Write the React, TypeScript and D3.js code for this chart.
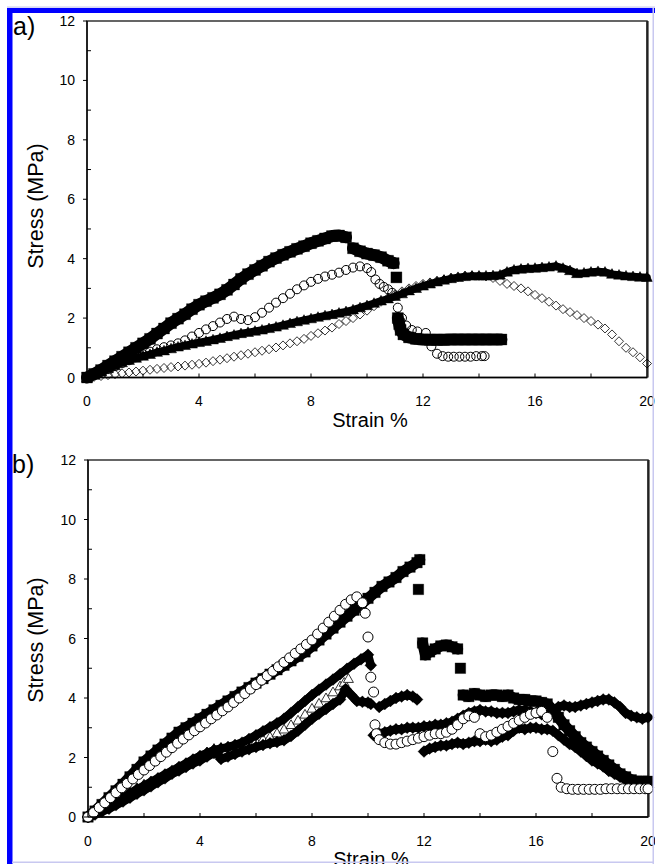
import React from "react";
import * as d3 from "d3";

type Pt = [number, number];

const xTicks = [0, 4, 8, 12, 16, 20];
const xMinorTicks = [2, 4, 6, 8, 10, 12, 14, 16, 18];
const yTicks = [0, 2, 4, 6, 8, 10, 12];
const yMinorTicks = [1, 3, 5, 7, 9, 11];

// ---------- Panel a ----------
const aSquares: Pt[] = [[0,0],[0.25,0.12],[0.5,0.25],[0.75,0.4],[1,0.55],[1.25,0.7],[1.5,0.85],[1.75,1.0],[2,1.15],[2.25,1.3],[2.5,1.48],[2.75,1.65],[3,1.83],[3.25,1.98],[3.5,2.13],[3.75,2.3],[4,2.45],[4.25,2.57],[4.5,2.68],[4.75,2.8],[5,2.95],[5.25,3.13],[5.5,3.32],[5.75,3.48],[6,3.62],[6.25,3.76],[6.5,3.9],[6.75,4.02],[7,4.13],[7.25,4.23],[7.5,4.33],[7.75,4.42],[8,4.52],[8.25,4.6],[8.5,4.68],[8.75,4.76],[9,4.78],[9.25,4.72],[9.5,4.35],[9.75,4.25],[10,4.17],[10.25,4.12],[10.5,4.05],[10.75,3.93],[10.95,3.85],[11.05,3.37],[11.1,2.0],[11.15,1.8],[11.2,1.6],[11.3,1.45],[11.5,1.35],[11.75,1.3],[12,1.28],[12.25,1.27],[12.5,1.27],[12.75,1.27],[13,1.28],[13.25,1.28],[13.5,1.28],[13.75,1.28],[14,1.28],[14.25,1.28],[14.5,1.28],[14.8,1.28]];

const aCircles: Pt[] = [[0,0],[0.25,0.08],[0.5,0.18],[0.75,0.28],[1,0.38],[1.25,0.48],[1.5,0.58],[1.75,0.68],[2,0.78],[2.25,0.87],[2.5,0.95],[2.75,1.02],[3,1.08],[3.25,1.15],[3.5,1.25],[3.75,1.38],[4,1.5],[4.25,1.62],[4.5,1.73],[4.75,1.85],[5,1.97],[5.25,2.05],[5.5,1.97],[5.75,1.93],[6,2.03],[6.25,2.18],[6.5,2.35],[6.75,2.52],[7,2.67],[7.25,2.82],[7.5,2.97],[7.75,3.1],[8,3.22],[8.25,3.32],[8.5,3.4],[8.75,3.46],[9,3.53],[9.25,3.62],[9.5,3.7],[9.75,3.74],[10,3.68],[10.15,3.55],[10.3,3.3],[10.45,3.15],[10.6,3.05],[10.75,2.97],[10.9,2.85],[11.1,2.35],[11.25,2.0],[11.4,1.75],[11.6,1.6],[11.8,1.55],[12.1,1.5],[12.3,1.05],[12.5,0.8],[12.7,0.72],[12.9,0.7],[13.1,0.7],[13.3,0.7],[13.5,0.7],[13.7,0.7],[13.9,0.72],[14.1,0.72],[14.2,0.72]];

const aTriangles: Pt[] = [[0,0],[0.25,0.1],[0.5,0.2],[0.75,0.3],[1,0.4],[1.25,0.5],[1.5,0.58],[1.75,0.65],[2,0.72],[2.25,0.78],[2.5,0.85],[2.75,0.9],[3,0.97],[3.25,1.03],[3.5,1.08],[3.75,1.13],[4,1.18],[4.25,1.22],[4.5,1.27],[4.75,1.32],[5,1.38],[5.25,1.43],[5.5,1.48],[5.75,1.52],[6,1.56],[6.25,1.6],[6.5,1.65],[6.75,1.7],[7,1.76],[7.25,1.82],[7.5,1.88],[7.75,1.93],[8,1.98],[8.25,2.03],[8.5,2.08],[8.75,2.12],[9,2.17],[9.25,2.22],[9.5,2.28],[9.75,2.35],[10,2.42],[10.25,2.5],[10.5,2.58],[10.75,2.65],[11,2.73],[11.25,2.82],[11.5,2.92],[11.75,3.0],[12,3.08],[12.25,3.15],[12.5,3.22],[12.75,3.28],[13,3.33],[13.25,3.37],[13.5,3.4],[13.75,3.42],[14,3.42],[14.25,3.42],[14.5,3.43],[14.75,3.45],[15,3.55],[15.25,3.62],[15.5,3.65],[15.75,3.67],[16,3.68],[16.25,3.7],[16.5,3.72],[16.75,3.75],[17,3.68],[17.25,3.6],[17.5,3.5],[17.75,3.52],[18,3.55],[18.25,3.57],[18.5,3.55],[18.75,3.48],[19,3.45],[19.25,3.42],[19.5,3.4],[19.75,3.38],[20,3.37]];

const aDiamonds: Pt[] = [[0,0],[0.25,0.02],[0.5,0.05],[0.75,0.08],[1,0.11],[1.25,0.14],[1.5,0.17],[1.75,0.2],[2,0.23],[2.25,0.26],[2.5,0.29],[2.75,0.32],[3,0.35],[3.25,0.37],[3.5,0.4],[3.75,0.43],[4,0.46],[4.25,0.5],[4.5,0.55],[4.75,0.6],[5,0.65],[5.25,0.7],[5.5,0.75],[5.75,0.8],[6,0.85],[6.25,0.9],[6.5,0.95],[6.75,1.01],[7,1.08],[7.25,1.15],[7.5,1.22],[7.75,1.3],[8,1.4],[8.25,1.49],[8.5,1.58],[8.75,1.68],[9,1.8],[9.25,1.9],[9.5,2.0],[9.75,2.12],[10,2.25],[10.25,2.4],[10.5,2.55],[10.75,2.68],[11,2.8],[11.25,2.9],[11.5,3.0],[11.75,3.08],[12,3.15],[12.25,3.2],[12.5,3.25],[12.75,3.3],[13,3.35],[13.25,3.38],[13.5,3.42],[13.75,3.43],[14,3.42],[14.25,3.4],[14.5,3.35],[14.75,3.25],[15,3.15],[15.25,3.08],[15.5,3.0],[15.75,2.9],[16,2.78],[16.25,2.67],[16.5,2.55],[16.75,2.42],[17,2.3],[17.25,2.2],[17.5,2.1],[17.75,2.0],[18,1.9],[18.25,1.78],[18.5,1.65],[18.75,1.45],[19,1.22],[19.25,1.0],[19.5,0.85],[19.75,0.68],[20,0.47]];

// ---------- Panel b ----------
const bSquares: Pt[] = [[0,0],[0.25,0.2],[0.5,0.42],[0.75,0.65],[1,0.88],[1.25,1.1],[1.5,1.35],[1.75,1.6],[2,1.85],[2.25,2.05],[2.5,2.25],[2.75,2.45],[3,2.65],[3.25,2.85],[3.5,3.0],[3.75,3.15],[4,3.3],[4.25,3.45],[4.5,3.6],[4.75,3.75],[5,3.9],[5.25,4.05],[5.5,4.2],[5.75,4.35],[6,4.5],[6.25,4.65],[6.5,4.8],[6.75,4.95],[7,5.1],[7.25,5.25],[7.5,5.4],[7.75,5.55],[8,5.75],[8.25,5.95],[8.5,6.15],[8.75,6.35],[9,6.55],[9.25,6.75],[9.5,6.95],[9.75,7.15],[10,7.35],[10.25,7.55],[10.5,7.75],[10.75,7.9],[11,8.05],[11.25,8.25],[11.5,8.4],[11.75,8.55],[11.85,8.65],[11.8,7.65],[11.95,5.85],[12.05,5.45],[12.2,5.55],[12.4,5.65],[12.6,5.75],[12.8,5.78],[13,5.72],[13.2,5.65],[13.3,5.0],[13.4,4.1],[13.6,4.05],[13.8,4.15],[14,4.1],[14.2,4.05],[14.4,4.1],[14.6,4.1],[14.8,4.05],[15,4.1],[15.2,4.0],[15.4,3.95],[15.6,3.95],[15.8,3.9],[16,3.9],[16.2,3.85],[16.4,3.8],[16.6,3.6],[16.8,3.35],[17,3.1],[17.2,2.9],[17.4,2.7],[17.6,2.5],[17.8,2.35],[18,2.2],[18.2,2.05],[18.4,1.9],[18.6,1.75],[18.8,1.6],[19,1.45],[19.2,1.35],[19.4,1.25],[19.6,1.2],[19.8,1.2],[20,1.2]];

const bCircles: Pt[] = [[0,0],[0.2,0.15],[0.4,0.32],[0.6,0.48],[0.8,0.65],[1,0.82],[1.2,0.98],[1.4,1.13],[1.6,1.28],[1.8,1.43],[2,1.58],[2.2,1.73],[2.4,1.88],[2.6,2.03],[2.8,2.18],[3,2.33],[3.2,2.48],[3.4,2.62],[3.6,2.76],[3.8,2.9],[4,3.03],[4.2,3.16],[4.4,3.3],[4.6,3.43],[4.8,3.57],[5,3.7],[5.2,3.85],[5.4,4.0],[5.6,4.15],[5.8,4.3],[6,4.45],[6.2,4.6],[6.4,4.75],[6.6,4.9],[6.8,5.05],[7,5.2],[7.2,5.35],[7.4,5.5],[7.6,5.65],[7.8,5.8],[8,5.95],[8.2,6.15],[8.4,6.35],[8.6,6.55],[8.8,6.75],[9,6.95],[9.2,7.15],[9.4,7.3],[9.6,7.4],[9.8,7.2],[9.9,6.85],[10,6.05],[10.1,4.7],[10.2,4.2],[10.25,3.1],[10.3,2.8],[10.4,2.6],[10.6,2.5],[10.8,2.45],[11,2.45],[11.2,2.5],[11.4,2.55],[11.6,2.6],[11.8,2.65],[12,2.7],[12.2,2.75],[12.4,2.8],[12.6,2.8],[12.8,2.85],[13,2.95],[13.2,3.1],[13.4,3.3],[13.6,3.4],[13.8,3.35],[14,2.8],[14.2,2.7],[14.4,2.75],[14.6,2.85],[14.8,2.95],[15,3.05],[15.2,3.15],[15.4,3.25],[15.6,3.35],[15.8,3.45],[16,3.5],[16.2,3.55],[16.4,3.35],[16.6,2.2],[16.75,1.3],[16.9,1.0],[17.1,0.95],[17.3,0.93],[17.5,0.93],[17.7,0.93],[17.9,0.93],[18.1,0.93],[18.3,0.93],[18.5,0.95],[18.7,0.95],[18.9,0.95],[19.1,0.95],[19.3,0.95],[19.5,0.95],[19.7,0.95],[19.9,0.95],[20,0.95]];

const bDiamondsA: Pt[] = [[0,0],[0.25,0.13],[0.5,0.27],[0.75,0.41],[1,0.55],[1.25,0.68],[1.5,0.8],[1.75,0.93],[2,1.05],[2.25,1.18],[2.5,1.3],[2.75,1.43],[3,1.55],[3.25,1.68],[3.5,1.8],[3.75,1.93],[4,2.05],[4.25,2.15],[4.5,2.25],[4.75,2.3],[5,2.35],[5.25,2.42],[5.5,2.5],[5.75,2.62],[6,2.75],[6.25,2.88],[6.5,3.02],[6.75,3.15],[7,3.3],[7.25,3.5],[7.5,3.7],[7.75,3.9],[8,4.1],[8.25,4.28],[8.5,4.45],[8.75,4.62],[9,4.8],[9.25,4.98],[9.5,5.15],[9.75,5.3],[10,5.45],[10.1,5.1],[10.4,3.7],[10.6,3.8],[10.8,3.9],[11,4.0],[11.2,4.05],[11.4,4.1],[11.6,4.05],[11.75,3.95],[12,2.2],[12.2,2.3],[12.4,2.35],[12.6,2.4],[12.8,2.4],[13,2.45],[13.2,2.5],[13.4,2.45],[13.6,2.5],[13.8,2.55],[14,2.55],[14.2,2.6],[14.4,2.55],[14.6,2.6],[14.8,2.7],[15,2.75],[15.2,2.9],[15.4,3.0],[15.6,2.95],[15.8,3.0],[16,3.0],[16.2,2.95],[16.4,2.95],[16.6,2.9],[16.8,2.75],[17,2.6],[17.2,2.45],[17.4,2.35],[17.6,2.2],[17.8,2.05],[18,1.9],[18.2,1.8],[18.4,1.7],[18.6,1.55],[18.8,1.45],[19,1.35],[19.2,1.25],[19.4,1.2],[19.6,1.1],[19.8,1.05],[20,1.0]];

const bDiamondsB: Pt[] = [[0,0],[0.25,0.08],[0.5,0.18],[0.75,0.28],[1,0.4],[1.25,0.52],[1.5,0.65],[1.75,0.78],[2,0.9],[2.25,1.03],[2.5,1.17],[2.75,1.3],[3,1.45],[3.25,1.56],[3.5,1.68],[3.75,1.8],[4,1.9],[4.25,2.03],[4.5,2.15],[4.6,2.2],[4.75,1.95],[5,2.03],[5.25,2.12],[5.5,2.2],[5.75,2.28],[6,2.35],[6.25,2.42],[6.5,2.48],[6.75,2.52],[7,2.58],[7.25,2.72],[7.5,2.9],[7.75,3.1],[8,3.3],[8.25,3.47],[8.5,3.63],[8.75,3.8],[9,3.95],[9.2,4.3],[9.4,4.1],[9.6,3.9],[9.8,3.87],[10,3.85],[10.1,3.8],[10.2,2.75],[10.4,2.8],[10.6,2.85],[10.8,2.9],[11,2.95],[11.2,2.95],[11.4,3.0],[11.6,3.0],[11.8,3.0],[12,3.05],[12.2,3.05],[12.4,3.1],[12.6,3.1],[12.8,3.15],[13,3.2],[13.2,3.3],[13.4,3.4],[13.6,3.5],[13.8,3.55],[14,3.6],[14.2,3.55],[14.4,3.55],[14.6,3.5],[14.8,3.5],[15,3.5],[15.2,3.55],[15.4,3.6],[15.6,3.6],[15.8,3.55],[16,3.5],[16.2,3.45],[16.4,3.5],[16.6,3.6],[16.8,3.7],[17,3.75],[17.2,3.7],[17.4,3.7],[17.6,3.75],[17.8,3.8],[18,3.85],[18.2,3.9],[18.4,3.95],[18.6,3.95],[18.8,3.85],[19,3.7],[19.2,3.5],[19.4,3.4],[19.6,3.35],[19.8,3.3],[20,3.35]];

const bTriangles: Pt[] = [[0,0],[0.25,0.12],[0.5,0.25],[0.75,0.4],[1,0.55],[1.25,0.7],[1.5,0.85],[1.75,0.98],[2,1.1],[2.25,1.2],[2.5,1.3],[2.75,1.43],[3,1.55],[3.25,1.68],[3.5,1.8],[3.75,1.93],[4,2.05],[4.25,2.18],[4.5,2.3],[4.75,2.33],[5,2.35],[5.25,2.4],[5.5,2.45],[5.75,2.5],[6,2.55],[6.25,2.62],[6.5,2.7],[6.75,2.82],[7,2.95],[7.25,3.1],[7.5,3.25],[7.75,3.45],[8,3.65],[8.25,3.82],[8.5,4.0],[8.75,4.2],[9,4.4],[9.15,4.52],[9.3,4.65]];

type Shape = "square" | "circle" | "triangle" | "diamond";
interface SeriesDef {
  key: string;
  data: Pt[];
  shape: Shape;
  r: number;
  fill: string;
  stroke: string;
  sw: number;
  band?: number; // width of the solid band drawn under touching filled markers
}

function markerPath(shape: Shape, r: number): string {
  switch (shape) {
    case "square":
      return `M${-r},${-r}h${2 * r}v${2 * r}h${-2 * r}Z`;
    case "diamond":
      return `M0,${-r}L${r},0L0,${r}L${-r},0Z`;
    case "triangle":
      return `M0,${-r}L${r},${r * 0.75}L${-r},${r * 0.75}Z`;
    case "circle":
    default:
      return `M${-r},0A${r},${r} 0 1,0 ${r},0A${r},${r} 0 1,0 ${-r},0Z`;
  }
}

interface Box {
  left: number;
  right: number;
  top: number;
  bottom: number;
}

const FONT = "'Liberation Sans', Arial, sans-serif";

function bandSegments(px: Pt[], maxGap: number): Pt[][] {
  const segs: Pt[][] = [];
  let cur: Pt[] = [];
  px.forEach((p, i) => {
    if (i > 0) {
      const q = px[i - 1];
      if (Math.hypot(p[0] - q[0], p[1] - q[1]) > maxGap) {
        if (cur.length > 1) segs.push(cur);
        cur = [];
      }
    }
    cur.push(p);
  });
  if (cur.length > 1) segs.push(cur);
  return segs;
}

interface PanelProps {
  box: Box;
  label: string;
  labelPos: [number, number];
  yLabelCenter: number;
  series: SeriesDef[];
}

function Panel({ box, label, labelPos, yLabelCenter, series }: PanelProps) {
  const x = d3.scaleLinear().domain([0, 20]).range([box.left, box.right]);
  const y = d3.scaleLinear().domain([0, 12]).range([box.bottom, box.top]);
  const line = d3.line<Pt>().x((p) => p[0]).y((p) => p[1]).curve(d3.curveLinear);
  return (
    <g>
      <rect x={box.left} y={box.top} width={box.right - box.left} height={box.bottom - box.top} fill="#fff" stroke="#333" strokeWidth={1.5} />
      <line x1={box.right + 0.5} x2={box.right + 0.5} y1={box.top} y2={box.bottom} stroke="#222" strokeWidth={2.2} />
      {series.map((s) => {
        const d = markerPath(s.shape, s.r);
        const px: Pt[] = s.data.map((p) => [x(p[0]), y(p[1])]);
        const segs = s.band ? bandSegments(px, 13) : [];
        return (
          <g key={s.key}>
            {segs.map((seg, i) => (
              <path key={"b" + i} d={line(seg) || ""} fill="none" stroke={s.fill} strokeWidth={s.band} strokeLinejoin="round" strokeLinecap="round" />
            ))}
            {px.map((p, i) => (
              <path key={i} d={d} transform={`translate(${p[0]},${p[1]})`} fill={s.fill} stroke={s.stroke} strokeWidth={s.sw} />
            ))}
          </g>
        );
      })}
      {/* axes */}
      <line x1={box.left} x2={box.left} y1={box.top} y2={box.bottom} stroke="#000" strokeWidth={1.3} />
      <line x1={box.left} x2={box.right} y1={box.bottom} y2={box.bottom} stroke="#000" strokeWidth={1.3} />
      {yTicks.map((t) => (
        <g key={"yt" + t}>
          <line x1={box.left - 4} x2={box.left} y1={y(t)} y2={y(t)} stroke="#000" strokeWidth={1} />
          <text x={box.left - 12} y={y(t) + 5} textAnchor="end" fontFamily={FONT} fontSize={14} fill="#000">{t}</text>
        </g>
      ))}
      {yMinorTicks.map((t) => (
        <line key={"ym" + t} x1={box.left} x2={box.left + 4} y1={y(t)} y2={y(t)} stroke="#000" strokeWidth={1} />
      ))}
      {xMinorTicks.map((t) => (
        <line key={"xm" + t} x1={x(t)} x2={x(t)} y1={box.bottom} y2={box.bottom - 4} stroke="#000" strokeWidth={1} />
      ))}
      {xTicks.map((t) => (
        <text key={"xt" + t} x={x(t)} y={box.bottom + 28.5} textAnchor="middle" fontFamily={FONT} fontSize={14} fill="#000">{t}</text>
      ))}
      <text x={(box.left + box.right) / 2 + 3} y={box.bottom + 49} textAnchor="middle" fontFamily={FONT} fontSize={20} fill="#000">Strain %</text>
      <text transform={`translate(43,${yLabelCenter}) rotate(-90)`} textAnchor="middle" fontFamily={FONT} fontSize={21.5} fill="#000">Stress (MPa)</text>
      <text x={labelPos[0]} y={labelPos[1]} fontFamily={FONT} fontSize={25} fill="#000">{label}</text>
    </g>
  );
}

export default function App() {
  const boxA: Box = { left: 87, right: 647, top: 21, bottom: 377.5 };
  const boxB: Box = { left: 88, right: 648, top: 460, bottom: 817 };

  const seriesA: SeriesDef[] = [
    { key: "aDia", data: aDiamonds, shape: "diamond", r: 4.5, fill: "none", stroke: "#000", sw: 0.8 },
    { key: "aTri", data: aTriangles, shape: "triangle", r: 5.5, fill: "#000", stroke: "#000", sw: 0.5, band: 7.5 },
    { key: "aCir", data: aCircles, shape: "circle", r: 4.5, fill: "none", stroke: "#000", sw: 1 },
    { key: "aSq", data: aSquares, shape: "square", r: 5.5, fill: "#000", stroke: "#000", sw: 0.3, band: 12 },
  ];
  const seriesB: SeriesDef[] = [
    { key: "bTri", data: bTriangles, shape: "triangle", r: 5, fill: "#fff", stroke: "#000", sw: 0.8 },
    { key: "bDA", data: bDiamondsA, shape: "diamond", r: 6, fill: "#000", stroke: "#000", sw: 0.3, band: 8.5 },
    { key: "bDB", data: bDiamondsB, shape: "diamond", r: 6, fill: "#000", stroke: "#000", sw: 0.3, band: 8.5 },
    { key: "bSq", data: bSquares, shape: "square", r: 5.3, fill: "#000", stroke: "#000", sw: 0.3, band: 11 },
    { key: "bCir", data: bCircles, shape: "circle", r: 5, fill: "#fff", stroke: "#000", sw: 1 },
  ];

  return (
    <svg width={655} height={864} viewBox="0 0 655 864" style={{ position: "absolute", left: 0, top: 0, display: "block", background: "#fff" }}>
      <rect x={0} y={0} width={655} height={864} fill="#fff" />
      <Panel box={boxA} label="a)" labelPos={[13, 35]} yLabelCenter={206} series={seriesA} />
      <Panel box={boxB} label="b)" labelPos={[12, 473]} yLabelCenter={640} series={seriesB} />
      {/* frame */}
      <rect x={7} y={6.5} width={648} height={1.2} fill="#c8c8f0" />
      <rect x={7} y={8} width={648} height={5} fill="#0000ff" />
      <rect x={7} y={8} width={5.5} height={856} fill="#0000ff" />
      <rect x={652.5} y={8} width={1.5} height={856} fill="#c8c8f0" />
      <rect x={12} y={861.5} width={642} height={1.5} fill="#c8c8f0" />
    </svg>
  );
}
